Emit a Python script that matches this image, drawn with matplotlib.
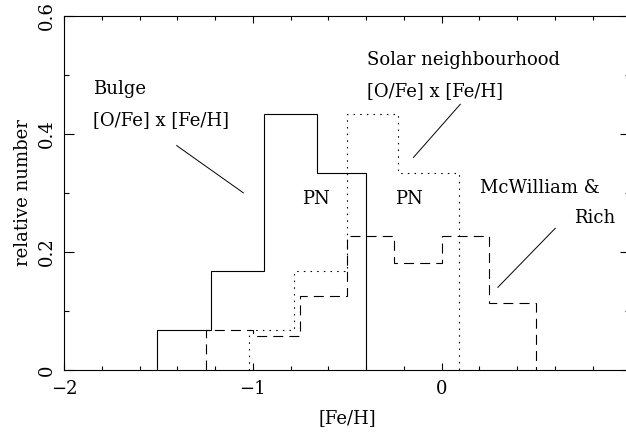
import matplotlib
matplotlib.use("Agg")
import matplotlib.pyplot as plt
from matplotlib.ticker import MultipleLocator, FixedLocator, FixedFormatter

# ---- data ----
bulge_edges = [-1.51, -1.22, -0.94, -0.66, -0.40]
bulge_values = [0.067, 0.167, 0.433, 0.333]

solar_edges = [-1.02, -0.78, -0.50, -0.23, 0.09]
solar_values = [0.067, 0.167, 0.433, 0.333]

mcw_edges = [-1.25, -1.0, -0.75, -0.5, -0.25, 0.0, 0.25, 0.5]
mcw_values = [0.068, 0.057, 0.125, 0.227, 0.182, 0.227, 0.114]

x_ticks = [-2, -1, 0, 1]
x_ticklabels = ["\u22122", "\u22121", "0", ""]
y_ticks = [0, 0.2, 0.4, 0.6]
y_ticklabels = ["0", "0.2", "0.4", "0.6"]

plt.rcParams['font.family'] = ['DejaVu Serif']
FS = 13

fig = plt.figure(figsize=(6.26, 4.38), dpi=100)
ax = fig.add_axes([64/626, 68/438, 566.4/626, 354.3/438])

lw = 0.8
ax.stairs(bulge_values, bulge_edges, baseline=0, color='black', lw=lw)
s = ax.stairs(solar_values, solar_edges, baseline=0, color='black', lw=lw)
s.set_linestyle((0, (1.4, 4.6)))
d = ax.stairs(mcw_values, mcw_edges, baseline=0, color='black', lw=lw)
d.set_linestyle((0, (9.0, 5.5)))

ax.set_xlim(-2, 1)
ax.set_ylim(0, 0.6)

ax.xaxis.set_major_locator(FixedLocator(x_ticks))
ax.xaxis.set_major_formatter(FixedFormatter(x_ticklabels))
ax.xaxis.set_minor_locator(MultipleLocator(0.2))
ax.yaxis.set_major_locator(FixedLocator(y_ticks))
ax.yaxis.set_major_formatter(FixedFormatter(y_ticklabels))
ax.yaxis.set_minor_locator(MultipleLocator(0.1))

ax.tick_params(axis='both', which='both', direction='in', top=True, right=True,
               width=0.8, labelsize=FS)
ax.tick_params(axis='x', which='major', length=5, pad=7)
ax.tick_params(axis='x', which='minor', length=3)
ax.tick_params(axis='y', which='major', length=7, pad=6)
ax.tick_params(axis='y', which='minor', length=3.5)
for lab in ax.get_yticklabels():
    lab.set_rotation(90)
    lab.set_va('center')
for sp in ax.spines.values():
    sp.set_linewidth(0.8)

ax.set_xlabel("[Fe/H]", fontsize=FS, labelpad=8)
ax.set_ylabel("relative number", fontsize=FS, labelpad=4)

# annotations
ax.text(-1.845, 0.468, "Bulge", fontsize=FS)
ax.text(-1.845, 0.414, "[O/Fe] x [Fe/H]", fontsize=FS)
ax.plot([-1.403, -1.050], [0.380, 0.300], color='black', lw=0.7)

ax.text(-0.396, 0.517, "Solar neighbourhood", fontsize=FS)
ax.text(-0.396, 0.464, "[O/Fe] x [Fe/H]", fontsize=FS)
ax.plot([0.099, -0.149], [0.450, 0.360], color='black', lw=0.7)

ax.text(-0.740, 0.281, "PN", fontsize=FS)
ax.text(-0.246, 0.281, "PN", fontsize=FS)

ax.text(0.205, 0.299, "McWilliam &", fontsize=FS)
ax.text(0.703, 0.249, "Rich", fontsize=FS)
ax.plot([0.602, 0.298], [0.240, 0.140], color='black', lw=0.7)

fig.savefig("out.png", dpi=100)
